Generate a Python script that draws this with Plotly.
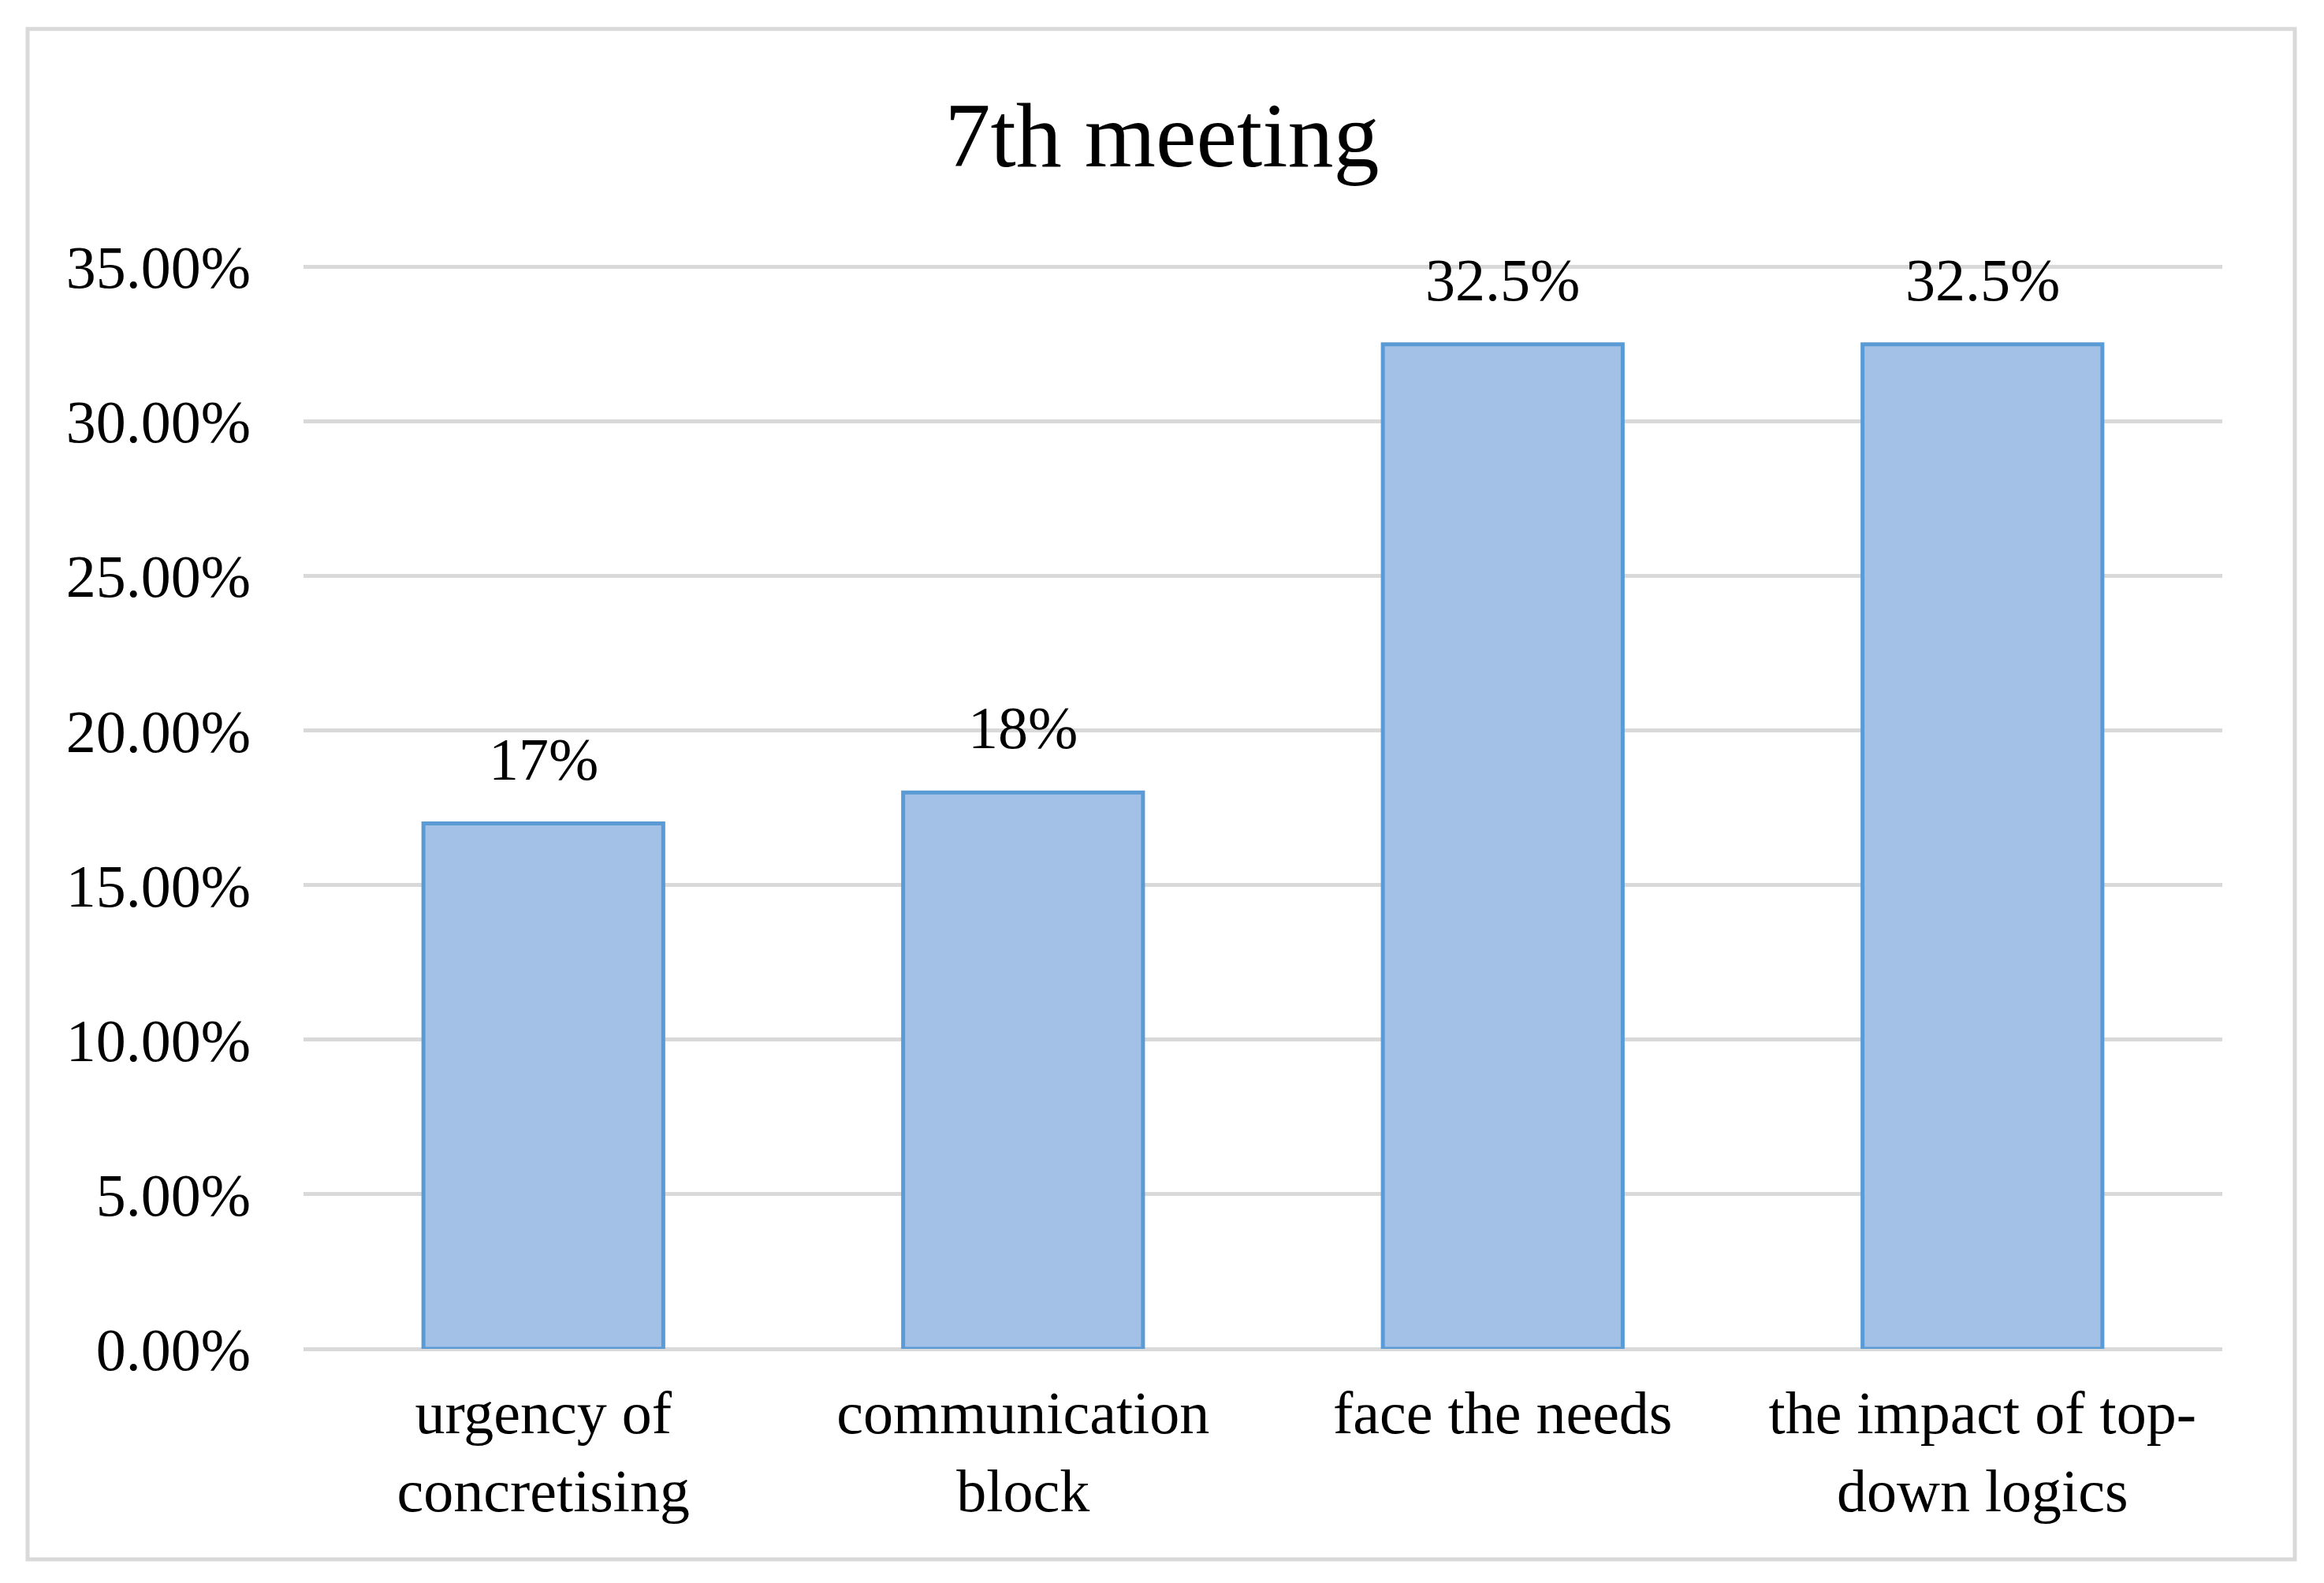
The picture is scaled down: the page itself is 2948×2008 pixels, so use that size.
import plotly.graph_objects as go

# ---- data ----
categories = ["urgency of<br>concretising", "communication<br>block", "face the needs", "the impact of top-<br>down logics"]
values = [0.17, 0.18, 0.325, 0.325]
labels = ["17%", "18%", "32.5%", "32.5%"]
y_ticks = [0, 0.05, 0.10, 0.15, 0.20, 0.25, 0.30, 0.35]
y_ticklabels = ["0.00%", "5.00%", "10.00%", "15.00%", "20.00%", "25.00%", "30.00%", "35.00%"]
title_text = "7th meeting"

# screen geometry (page body has an 8px margin)
SW, SH = 2948, 2008
O = 8
W, H = SW - 2 * O, SH - 2 * O

Y0_PX = 1711 - O          # y of 0%
Y35_PX = 339 - O          # y of 35%
YMAX = 0.352
scale = (Y0_PX - Y35_PX) / 0.35
TOP_PX = Y0_PX - YMAX * scale

L = 385 - O
R = W - (2819 - O)
T = TOP_PX
B = H - Y0_PX
PW, PH = W - L - R, H - T - B

FONT = "Liberation Serif"
GRID = "#d9d9d9"

fig = go.Figure()
fig.add_trace(go.Bar(
    x=categories, y=values,
    marker=dict(color="#a3c0e6", line=dict(color="#5b9bd5", width=5)),
    hoverinfo="skip", showlegend=False,
))

for c, v, t in zip(categories, values, labels):
    fig.add_annotation(x=c, y=v, text=t, showarrow=False, yanchor="bottom",
                       yshift=38, font=dict(family=FONT, size=76, color="black"))

def fx(p):
    return (p - O - L) / PW

def fy(p):
    return (H - B - (p - O)) / PH

fig.add_shape(type="rect", xref="paper", yref="paper",
              x0=fx(35), x1=fx(2911), y0=fy(1978), y1=fy(37),
              line=dict(color=GRID, width=5), fillcolor="rgba(0,0,0,0)", layer="below")

fig.update_layout(
    width=W, height=H,
    margin=dict(l=L, r=R, t=T, b=B, autoexpand=False),
    paper_bgcolor="white", plot_bgcolor="white",
    bargap=0.5,
    title=dict(text=title_text, x=0.5, xref="container", xanchor="center",
               y=1 - (170 - O) / H, yref="container", yanchor="middle",
               font=dict(family=FONT, size=116, color="black")),
    font=dict(family=FONT, size=76, color="black"),
)
fig.update_xaxes(showgrid=False, showline=False, zeroline=False, ticks="",
                 tickfont=dict(family=FONT, size=76, color="black"),
                 ticklabelstandoff=30)
fig.update_yaxes(range=[0, YMAX], tickvals=y_ticks, ticktext=y_ticklabels,
                 showgrid=True, gridcolor=GRID, gridwidth=5,
                 zeroline=True, zerolinecolor=GRID, zerolinewidth=5,
                 showline=False, ticks="",
                 tickfont=dict(family=FONT, size=76, color="black"),
                 ticklabelstandoff=66)

fig.write_html("out.html")
